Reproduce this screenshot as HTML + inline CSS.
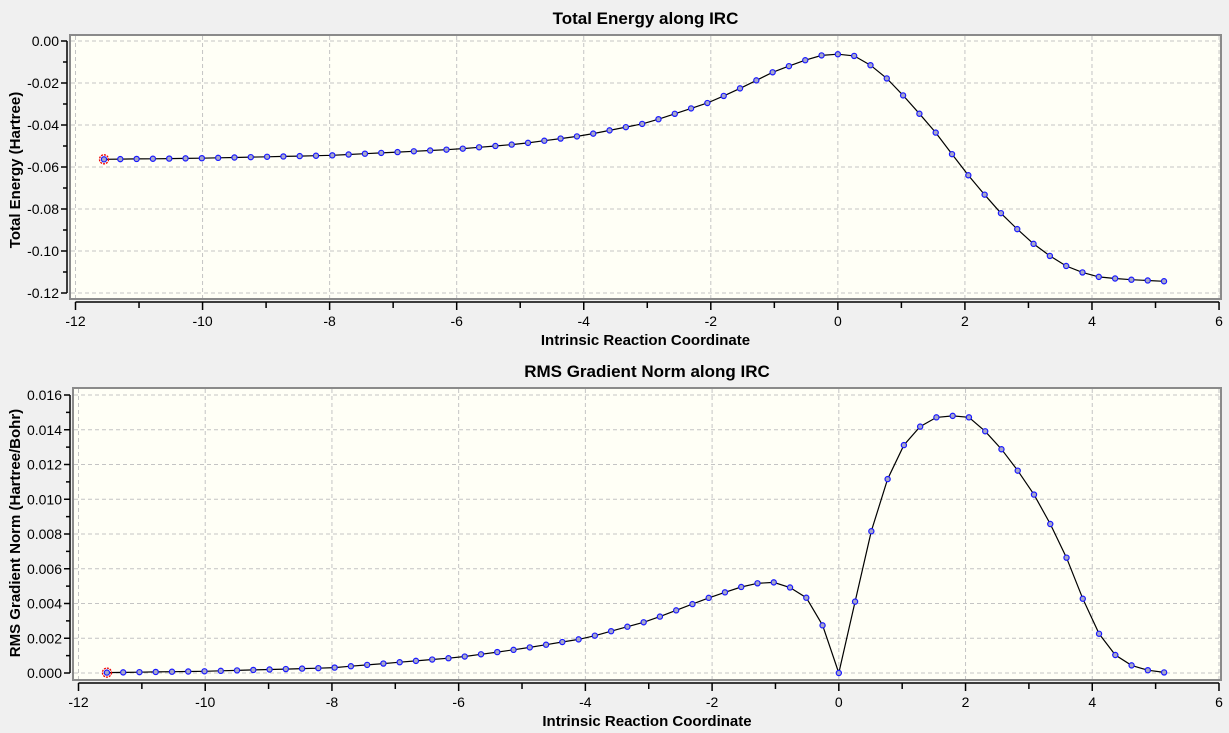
<!DOCTYPE html>
<html><head><meta charset="utf-8"><style>
body{margin:0;background:#f0f0f0;}
svg{display:block;font-family:"Liberation Sans",sans-serif;}
</style></head><body>
<svg id="s" width="1229" height="733" xmlns="http://www.w3.org/2000/svg"></svg>
<script>
const S=document.getElementById('s');let h='';
function interp(k,s){for(let i=0;i<k.length-1;i++){if(s>=k[i][0]&&s<=k[i+1][0]){const t=(s-k[i][0])/(k[i+1][0]-k[i][0]);return k[i][1]+t*(k[i+1][1]-k[i][1]);}}return k[k.length-1][1];}
function plot(o){
 const X=v=>o.x0+(v+12)*o.px, Y=v=>o.y0+(v-o.ymax)/(o.ymin-o.ymax)*(o.y1-o.y0);
 h+=`<rect x="${o.L}" y="${o.T}" width="${o.R-o.L}" height="${o.B-o.T}" fill="#fffff6" stroke="#8a8a8a" stroke-width="2"/>`;
 for(let v=-12;v<=6;v+=2)h+=`<line x1="${X(v)}" x2="${X(v)}" y1="${o.T+1}" y2="${o.B-1}" stroke="#c4c4c4" stroke-dasharray="4,3"/>`;
 for(let i=0;i<o.yt.length;i++){const v=o.yt[i];h+=`<line x1="${o.L+1}" x2="${o.R-1}" y1="${Y(v)}" y2="${Y(v)}" stroke="#c4c4c4" stroke-dasharray="4,3"/>`;}
 h+=`<line x1="${o.L-3}" x2="${o.L-3}" y1="${Y(o.ymax)}" y2="${Y(o.ymin)}" stroke="#000" stroke-width="1.5"/>`;
 o.yt.forEach(v=>{h+=`<line x1="${o.L-9}" x2="${o.L-3}" y1="${Y(v)}" y2="${Y(v)}" stroke="#000" stroke-width="1.5"/><text x="${o.L-11}" y="${Y(v)+5}" font-size="14" text-anchor="end">${o.fmt(v)}</text>`;});
 for(let i=0;i<o.yt.length-1;i++){const v=(o.yt[i]+o.yt[i+1])/2;h+=`<line x1="${o.L-7}" x2="${o.L-3}" y1="${Y(v)}" y2="${Y(v)}" stroke="#000" stroke-width="1.5"/>`;}
 const ay=o.B+3;
 h+=`<line x1="${X(-12)}" x2="${X(6)}" y1="${ay}" y2="${ay}" stroke="#000" stroke-width="1.5"/>`;
 for(let v=-12;v<=6;v++){const mj=v%2==0;h+=`<line x1="${X(v)}" x2="${X(v)}" y1="${ay}" y2="${ay+(mj?8:6)}" stroke="#000" stroke-width="1.5"/>`;if(mj)h+=`<text x="${X(v)}" y="${ay+24}" font-size="14" text-anchor="middle">${v}</text>`;}
 h+=`<text x="${(o.L+o.R)/2}" y="${ay+43}" font-size="15" font-weight="bold" text-anchor="middle">Intrinsic Reaction Coordinate</text>`;
 h+=`<text x="${(o.L+o.R)/2}" y="${o.T-11}" font-size="17" font-weight="bold" text-anchor="middle">${o.title}</text>`;
 h+=`<text transform="translate(20,${o.ylc}) rotate(-90)" font-size="15" font-weight="bold" text-anchor="middle">${o.ylab}</text>`;
 const pts=[];for(let i=-45;i<=20;i++){const s=i*0.2567;pts.push([X(s),Y(interp(o.k,s))]);}
 h+=`<polyline points="${pts.map(p=>p[0].toFixed(1)+','+p[1].toFixed(1)).join(' ')}" fill="none" stroke="#000" stroke-width="1.2"/>`;
 pts.forEach(p=>{h+=`<circle cx="${p[0]}" cy="${p[1]}" r="2.6" fill="#a8a8c8" stroke="#1a1aff" stroke-width="1.2"/>`;});
 h+=`<circle cx="${pts[0][0]}" cy="${pts[0][1]}" r="4.5" fill="none" stroke="#e00" stroke-width="1.3" stroke-dasharray="2,1"/>`;
}
plot({L:70,R:1221,T:35,B:299,x0:75.5,px:63.53,ymax:0,ymin:-0.12,y0:41,y1:293,
 yt:[0,-0.02,-0.04,-0.06,-0.08,-0.1,-0.12],fmt:v=>v.toFixed(2),title:"Total Energy along IRC",ylab:"Total Energy (Hartree)",ylc:170,
 k:[[-12,-0.0565],[-10,-0.0558],[-8,-0.0545],[-6,-0.0515],[-5,-0.049],[-4,-0.045],[-3,-0.039],[-2,-0.029],[-1.5,-0.022],[-1,-0.0145],[-0.5,-0.009],[-0.25,-0.0068],[0,-0.0063],[0.25,-0.007],[0.5,-0.0112],[0.75,-0.0172],[1,-0.025],[1.5,-0.042],[2,-0.062],[2.5,-0.080],[3,-0.0948],[3.5,-0.106],[4,-0.112],[4.5,-0.1135],[5.2,-0.1145]]});
plot({L:73,R:1221,T:388,B:680,x0:78.5,px:63.36,ymax:0.016,ymin:0,y0:395,y1:673,
 yt:[0.016,0.014,0.012,0.01,0.008,0.006,0.004,0.002,0],fmt:v=>v.toFixed(3),title:"RMS Gradient Norm along IRC",ylab:"RMS Gradient Norm (Hartree/Bohr)",ylc:533,
 k:[[-12,0],[-10,0.0001],[-8,0.0003],[-6,0.0009],[-5,0.0014],[-4,0.002],[-3,0.003],[-2,0.0044],[-1.5,0.005],[-1.1,0.0053],[-0.75,0.0049],[-0.5,0.0043],[-0.25,0.0027],[0,0],[0.25,0.004],[0.5,0.008],[0.75,0.011],[1,0.013],[1.25,0.0141],[1.5,0.0147],[1.8,0.0148],[2.1,0.0147],[2.5,0.0132],[3,0.0108],[3.5,0.0075],[3.75,0.0052],[4,0.0029],[4.25,0.0014],[4.5,0.0006],[4.8,0.0002],[5.2,0.0000]]});
S.innerHTML=h;
</script>
</body></html>
